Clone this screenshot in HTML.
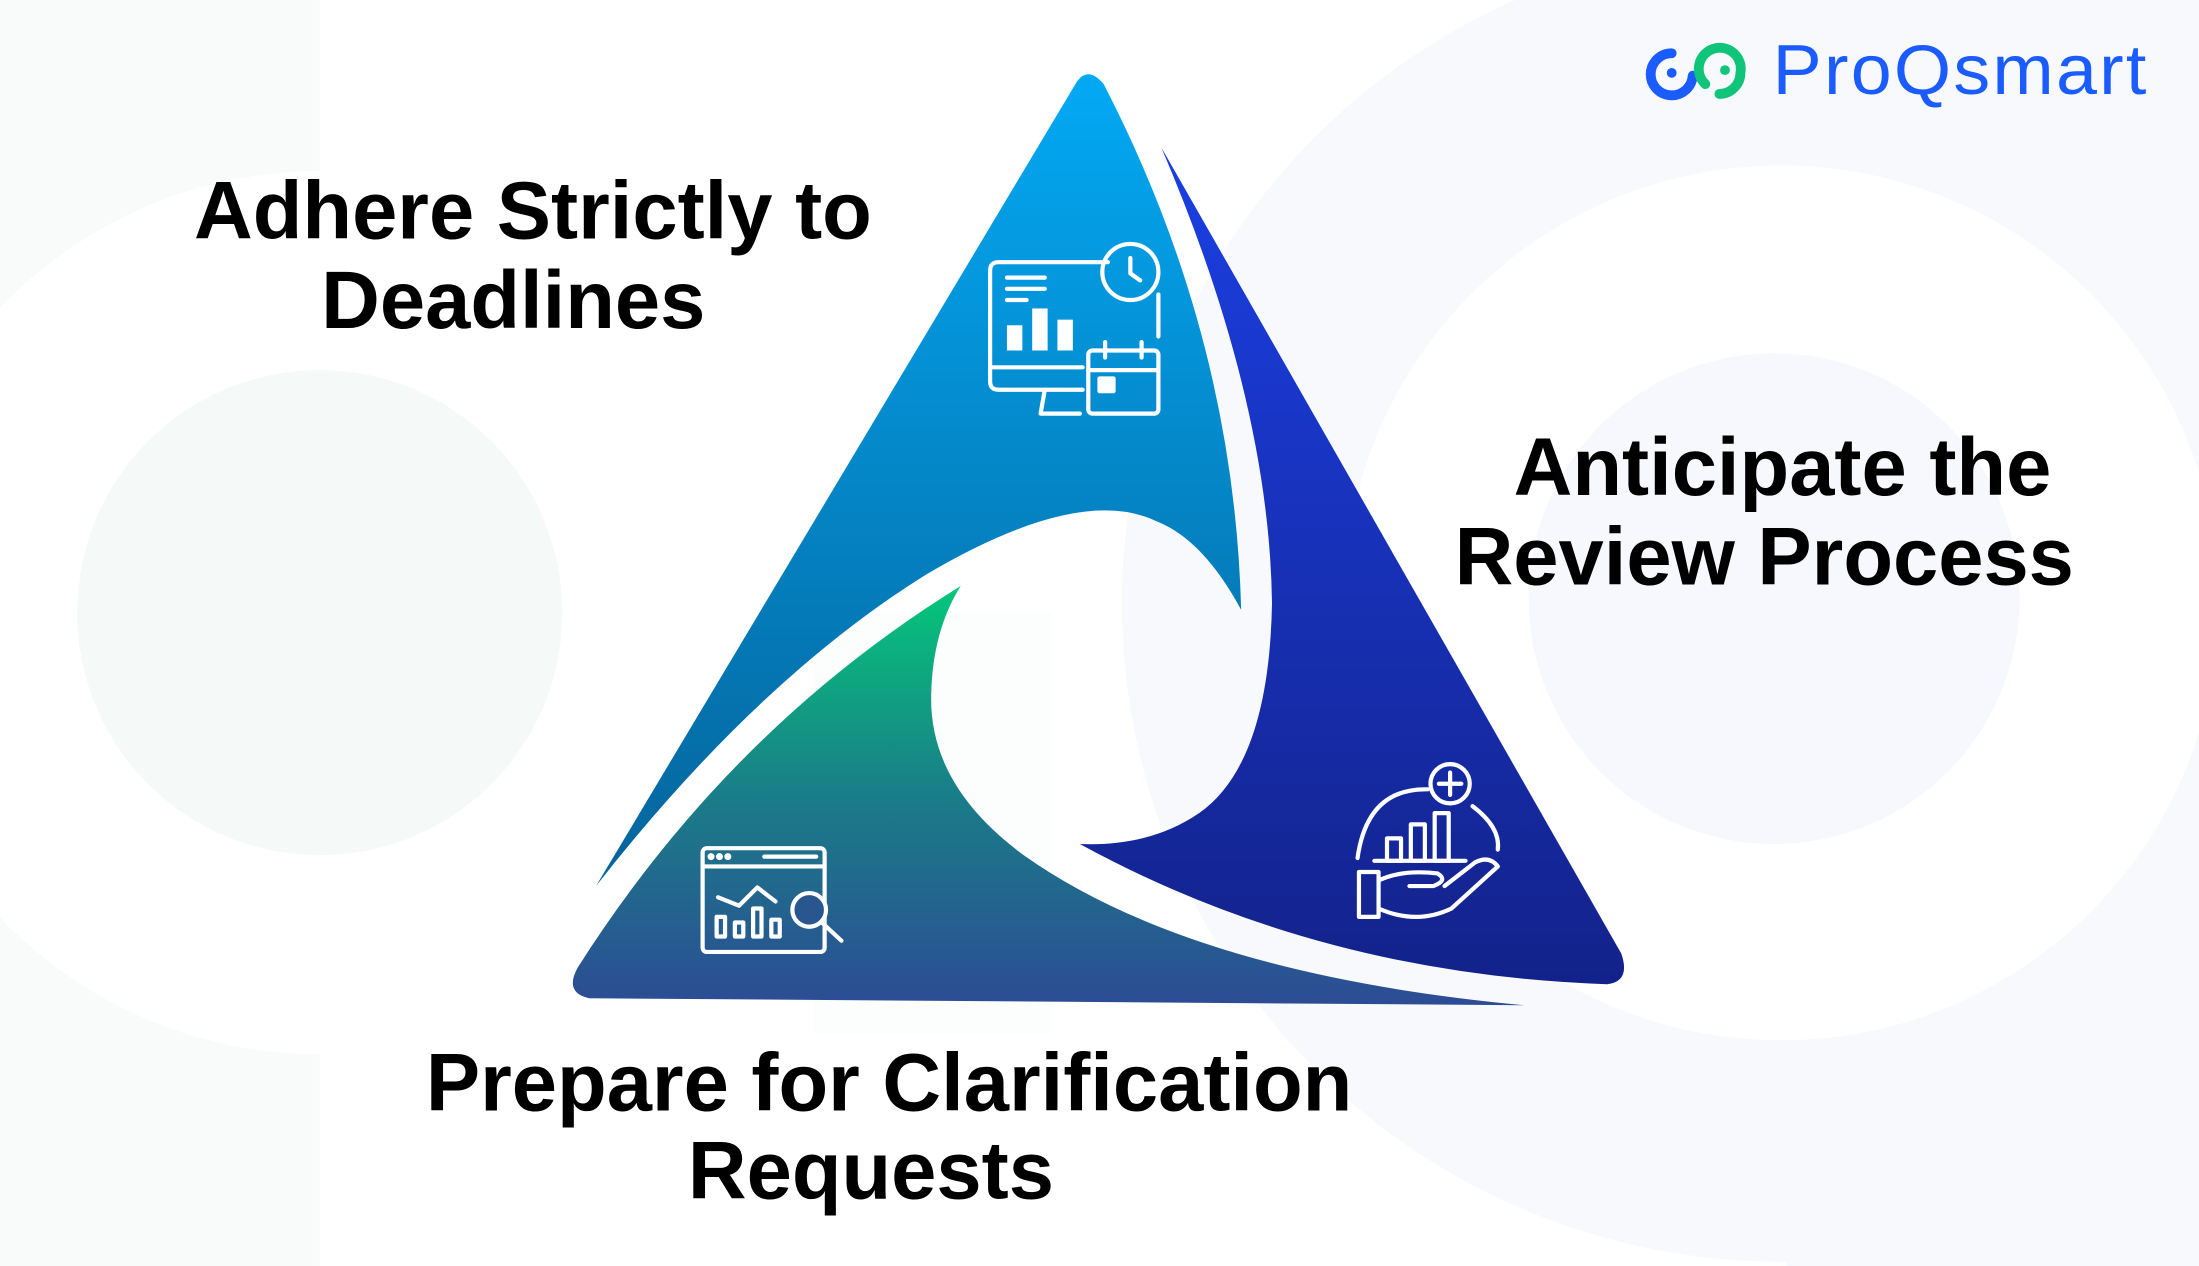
<!DOCTYPE html>
<html><head><meta charset="utf-8"><style>
html,body{margin:0;padding:0;background:#fff;}
svg{display:block;}
text{font-family:"Liberation Sans",sans-serif;}
</style></head><body>
<svg width="2199" height="1266" viewBox="0 0 1568 903" preserveAspectRatio="none" xmlns="http://www.w3.org/2000/svg">
<defs>
<linearGradient id="gb" x1="0" y1="0" x2="0" y2="1"><stop offset="0" stop-color="#03a9f4"/><stop offset="1" stop-color="#05639a"/></linearGradient>
<linearGradient id="gr" x1="0" y1="0" x2="0" y2="1"><stop offset="0" stop-color="#1b3fe3"/><stop offset="1" stop-color="#13228a"/></linearGradient>
<linearGradient id="gg" x1="0" y1="0" x2="0" y2="1"><stop offset="0" stop-color="#05c67a"/><stop offset="0.5" stop-color="#1a7d88"/><stop offset="1" stop-color="#2c4c94"/></linearGradient>
</defs>
<rect width="1568" height="903" fill="#fff"/>
<rect x="0" y="0" width="228" height="903" fill="#f8fbfa"/>
<circle cx="228" cy="437" r="315" fill="#fff"/>
<circle cx="228" cy="437" r="173" fill="#f5f9f8"/>
<rect x="1274" y="0" width="294" height="903" fill="#f8f9fd"/>
<circle cx="1270" cy="430" r="470" fill="#f8f9fd"/>
<circle cx="1270" cy="430" r="312" fill="#fff"/>
<circle cx="1265" cy="427" r="175" fill="#f7f8fd"/>
<rect x="580" y="437" width="170" height="300" fill="#f8faf9" opacity="0.4"/>

<path d="M425,632 L768,58 Q776,47 787,60 Q880,240 885,435 Q858,385 825,372 Q770,345 660,410 Q540,485 425,632 Z" fill="url(#gb)"/>
<path d="M828,105 L1156,680 Q1163,700 1146,702 Q940,695 770,602 Q820,604 855,580 Q905,545 907,430 Q905,285 828,105 Z" fill="url(#gr)"/>
<path d="M685,418 Q665,450 664,495 Q662,560 730,610 Q850,695 1087,717 L420,712 Q402,708 412,690 Q520,520 685,418 Z" fill="url(#gg)"/>

<g fill="none" stroke="#fff" stroke-width="3" stroke-linecap="round" stroke-linejoin="round">
<path d="M790,187 H712 Q706,187 706,193 V272 Q706,278 712,278 H772"/>
<path d="M706,262 H772"/>
<path d="M745,278 L742,295 H770"/>
<path d="M718,198 H745 M718,206 H745 M718,214 H732"/>
<rect x="718" y="232" width="11" height="18" fill="#fff" stroke="none"/>
<rect x="736" y="220" width="11" height="30" fill="#fff" stroke="none"/>
<rect x="754" y="228" width="11" height="22" fill="#fff" stroke="none"/>
<circle cx="806" cy="194" r="20"/>
<path d="M806,184 V195 L813,200"/>
<path d="M826,210 V240"/>
<rect x="776" y="250" width="50" height="45" rx="3"/>
<path d="M776,264 H826 M788,244 V255 M814,244 V255"/>
<rect x="784" y="270" width="10" height="9" fill="#fff"/>
</g>
<g fill="none" stroke="#fff" stroke-width="3" stroke-linecap="round" stroke-linejoin="round">
<circle cx="1034" cy="559" r="14"/>
<path d="M1034,551 V567 M1026,559 H1042"/>
<path d="M1018,563 Q975,562 968,612"/>
<path d="M1050,575 Q1070,590 1068,606"/>
<rect x="989" y="598" width="10" height="16"/><rect x="1006" y="588" width="10" height="26"/><rect x="1023" y="580" width="10" height="34"/>
<path d="M980,614 H1045"/>
<rect x="969" y="622" width="14" height="32"/>
<path d="M983,628 Q1000,620 1025,623 Q1033,628 1022,632 H1005 M983,648 Q1010,660 1035,648 L1068,618 Q1062,610 1052,615 L1030,632"/>
</g>
<g fill="none" stroke="#fff" stroke-width="3" stroke-linecap="round" stroke-linejoin="round">
<rect x="501" y="605" width="87" height="74" rx="3"/>
<path d="M501,618 H588 M545,611 H582"/>
<circle cx="507" cy="611" r="1" fill="#fff"/><circle cx="513" cy="611" r="1" fill="#fff"/><circle cx="519" cy="611" r="1" fill="#fff"/>
<path d="M512,640 L527,646 L540,633 L553,643"/>
<rect x="511" y="654" width="6" height="14"/><rect x="524" y="658" width="6" height="10"/><rect x="537" y="648" width="6" height="20"/><rect x="550" y="656" width="6" height="12"/>
<circle cx="577" cy="649" r="12" fill="#2a5690"/>
<path d="M586,658 L600,671"/>
</g>

<text x="380" y="170" font-size="58" font-weight="bold" text-anchor="middle" fill="#000">Adhere Strictly to</text>
<text x="366" y="234" font-size="58" font-weight="bold" text-anchor="middle" fill="#000">Deadlines</text>
<text x="1271" y="353" font-size="58" font-weight="bold" text-anchor="middle" fill="#000">Anticipate the</text>
<text x="1258" y="417" font-size="58" font-weight="bold" text-anchor="middle" fill="#000">Review Process</text>
<text x="634" y="792" font-size="58" font-weight="bold" text-anchor="middle" fill="#000">Prepare for Clarification</text>
<text x="621" y="855" font-size="58" font-weight="bold" text-anchor="middle" fill="#000">Requests</text>

<g fill="none" stroke-width="7" stroke-linecap="round">
<path d="M1192,38 A15,15 0 1 0 1207,54" stroke="#1a5cff"/>
<circle cx="1192" cy="52" r="3.5" fill="#1a5cff" stroke="none"/>
<path d="M1216,60 A15,15 0 1 1 1241,52 A15,15 0 0 1 1226,67" stroke="#10c47a"/>
<circle cx="1230" cy="50" r="3.5" fill="#10c47a" stroke="none"/>
</g>
<text x="1264" y="67" font-size="50" letter-spacing="1.5" fill="#1a5cff" textLength="268" lengthAdjust="spacingAndGlyphs">ProQsmart</text>
</svg>
</body></html>
